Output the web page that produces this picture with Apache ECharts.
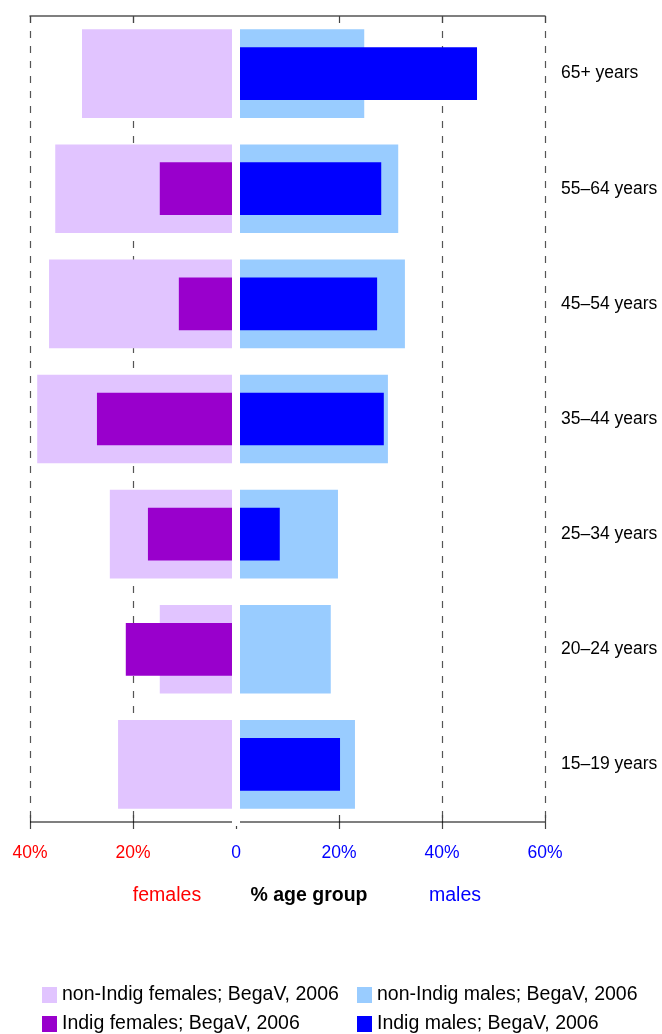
<!DOCTYPE html>
<html><head><meta charset="utf-8">
<script src="https://cdn.jsdelivr.net/npm/echarts@6/dist/echarts.min.js"></script>
<style>html,body{margin:0;padding:0;background:#fff}#c{width:662px;height:1034px}</style>
</head><body><div id="c"></div>
<script>
var categories = ['65+ years','55–64 years','45–54 years','35–44 years','25–34 years','20–24 years','15–19 years'];
var nonIndigFemales = [29.9, 35.1, 36.3, 38.6, 24.5, 14.8, 22.9];
var indigFemales    = [0, 14.8, 11.1, 27.0, 17.1, 21.4, 0];
var nonIndigMales   = [24.9, 31.5, 32.8, 29.5, 19.8, 18.4, 23.1];
var indigMales      = [46.8, 28.2, 27.4, 28.7, 8.5, 0, 20.2];
var tickValues = [-40, -20, 0, 20, 40, 60];
var tickLabels = ['40%', '20%', '0', '20%', '40%', '60%'];
var seriesNames = ['non-Indig females; BegaV, 2006','non-Indig males; BegaV, 2006','Indig females; BegaV, 2006','Indig males; BegaV, 2006'];

var FONT = 'Liberation Sans, Arial, sans-serif';
var GAP = 4;

var chart = echarts.init(document.getElementById('c'), null, {renderer: 'canvas'});

function barSeries(name, values, sign, frac, color, z) {
  return {
    type: 'custom', name: name, z: z,
    xAxisIndex: 0, yAxisIndex: 0,
    encode: {x: 0, y: 1},
    itemStyle: {color: color},
    data: values.map(function (v, i) { return [sign * v, i]; }),
    renderItem: function (params, api) {
      var v = api.value(0), c = api.value(1);
      if (!v) return null;
      var p0 = api.coord([0, c]), p1 = api.coord([v, c]);
      var h = api.size([0, 1])[1] * frac;
      var x0 = p0[0] + (v < 0 ? -GAP : GAP);
      return {type: 'rect', shape: {x: Math.min(x0, p1[0]), y: p0[1] - h / 2, width: Math.abs(p1[0] - x0), height: h}, style: {fill: color}};
    }
  };
}

var tickOnly = [-40, -20, 20, 40, 60];
function legendAt(name, left, top) {
  return {data: [name], left: left, top: top, padding: 0, itemWidth: 15, itemHeight: 16, icon: 'rect', selectedMode: false,
    textStyle: {fontFamily: FONT, fontSize: 19.5, color: '#000'}};
}

chart.setOption({
  animation: false,
  grid: {left: 30, right: 117, top: 16, bottom: 212, containLabel: false},
  xAxis: [
    {type: 'value', position: 'bottom', min: -40, max: 60, interval: 20,
     axisLine: {show: false},
     axisTick: {show: true, length: 7, customValues: tickOnly, lineStyle: {color: '#444', width: 1.2}},
     axisLabel: {show: true, margin: 22, fontFamily: FONT, fontSize: 17.5,
       formatter: function (v) { var k = tickValues.indexOf(v); return k >= 0 ? tickLabels[k] : ''; },
       color: function (v) { return Number(v) < 0 ? '#ff0000' : '#0000ff'; }},
     splitLine: {show: false}},
    {type: 'value', position: 'bottom', min: -40, max: 60, interval: 20,
     axisLine: {show: false}, axisLabel: {show: false}, splitLine: {show: false},
     axisTick: {show: true, inside: true, length: 7, customValues: tickOnly, lineStyle: {color: '#444', width: 1.2}}},
    {type: 'value', position: 'bottom', offset: 4, min: -40, max: 60, interval: 20,
     axisLine: {show: false}, axisLabel: {show: false}, splitLine: {show: false},
     axisTick: {show: true, length: 3, customValues: [0], lineStyle: {color: '#444', width: 1.2}}},
    {type: 'value', position: 'top', min: -40, max: 60, interval: 20,
     axisLine: {show: true, lineStyle: {color: '#555', width: 1.5}},
     axisLabel: {show: false},
     axisTick: {show: true, inside: true, length: 7, customValues: tickOnly, lineStyle: {color: '#444', width: 1.2}},
     splitLine: {show: true, lineStyle: {color: ['#555', '#555', 'rgba(0,0,0,0)', '#555', '#555', '#555'], width: 1.2, type: [7, 8]}}}
  ],
  yAxis: {type: 'category', data: categories, inverse: true, position: 'right',
    axisLine: {show: false}, axisTick: {show: false}, splitLine: {show: false},
    axisLabel: {margin: 16, fontFamily: FONT, fontSize: 17.5, color: '#000'}},
  legend: [
    legendAt(seriesNames[0], 42, 985),
    legendAt(seriesNames[1], 357, 985),
    legendAt(seriesNames[2], 42, 1014),
    legendAt(seriesNames[3], 357, 1014)
  ],
  series: [
    barSeries(seriesNames[0], nonIndigFemales, -1, 0.770, '#e1c4ff', 2),
    barSeries(seriesNames[1], nonIndigMales, 1, 0.770, '#99ccff', 2),
    barSeries(seriesNames[2], indigFemales, -1, 0.458, '#9900cc', 3),
    barSeries(seriesNames[3], indigMales, 1, 0.458, '#0000ff', 3)
  ]
});

var xl = chart.convertToPixel({xAxisIndex: 0}, -40);
var x0 = chart.convertToPixel({xAxisIndex: 0}, 0);
var xr = chart.convertToPixel({xAxisIndex: 0}, 60);
var ybase = 822;
chart.setOption({
  graphic: [
    {type: 'line', shape: {x1: xl, y1: ybase, x2: x0 - GAP, y2: ybase}, style: {stroke: '#000', lineWidth: 1.2}, z: 10},
    {type: 'line', shape: {x1: x0 + GAP, y1: ybase, x2: xr, y2: ybase}, style: {stroke: '#000', lineWidth: 1.2}, z: 10},
    {type: 'text', x: 167, y: 896, style: {text: 'females', fill: '#ff0000', font: '19.5px ' + FONT, align: 'center', verticalAlign: 'middle'}},
    {type: 'text', x: 309, y: 896, style: {text: '% age group', fill: '#000', font: 'bold 19.5px ' + FONT, align: 'center', verticalAlign: 'middle'}},
    {type: 'text', x: 455, y: 896, style: {text: 'males', fill: '#0000ff', font: '19.5px ' + FONT, align: 'center', verticalAlign: 'middle'}}
  ]
});
</script>
</body></html>
